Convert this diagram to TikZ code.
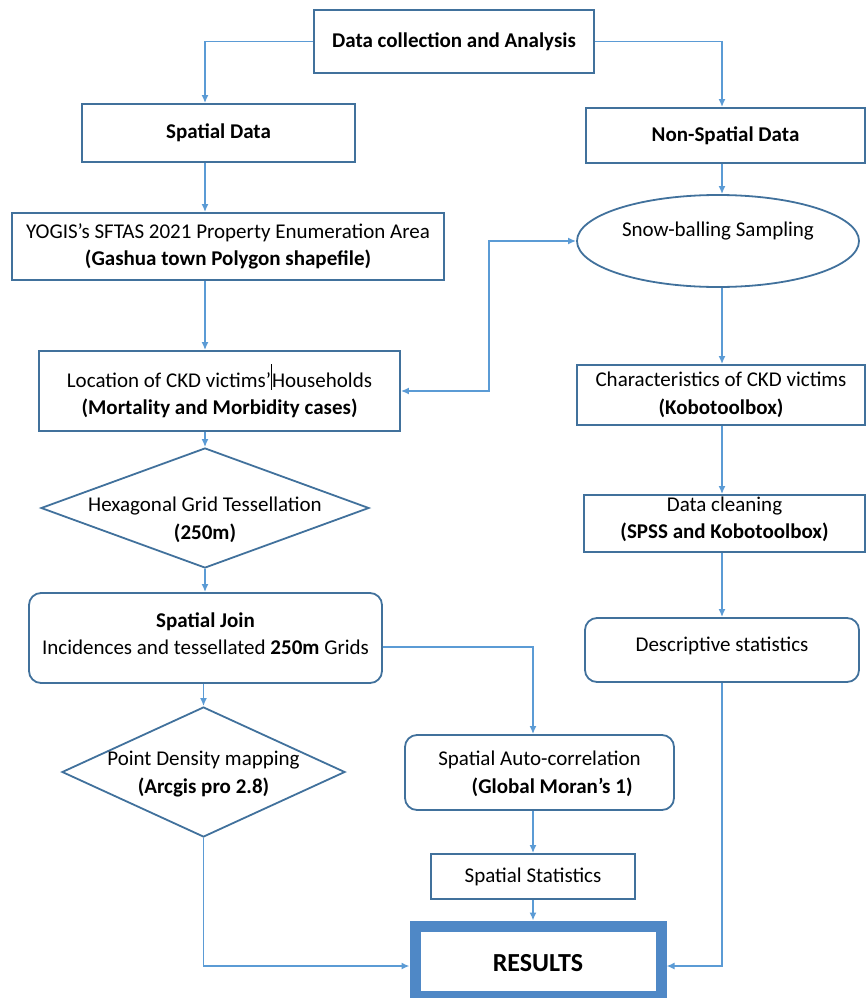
\documentclass[tikz,border=0pt]{standalone}
\usepackage{fontspec}
\setmainfont{Carlito}
\usetikzlibrary{shapes.geometric,arrows.meta,calc}
\definecolor{boxc}{RGB}{65,113,156}
\definecolor{arrc}{RGB}{91,155,213}
\definecolor{resc}{RGB}{79,136,198}
\begin{document}
\begin{tikzpicture}[x=1pt,y=-1pt,
  every node/.style={font=\fontsize{21}{27.5}\selectfont, align=center, text=black},
  box/.style={draw=boxc, line width=1.8pt, rectangle, inner sep=0pt},
  rbox/.style={box, rounded corners=12pt},
  diam/.style={draw=boxc, line width=1.8pt, diamond, inner sep=0pt},
  ell/.style={draw=boxc, line width=1.8pt, ellipse, inner sep=0pt},
  conn/.style={draw=arrc, line width=1.6pt, -{Latex[length=8pt,width=7pt]}},
  conn2/.style={draw=arrc, line width=1.6pt, {Latex[length=8pt,width=7pt]}-{Latex[length=8pt,width=7pt]}}
]
\useasboundingbox (0,0) rectangle (867,998);

\node[box, minimum width=280pt, minimum height=63pt] (top) at (454,41.5) {\textbf{Data collection and Analysis}};
\node[box, minimum width=273pt, minimum height=58pt] (spatial) at (218.5,133) {\textbf{Spatial Data}};
\node[box, minimum width=279pt, minimum height=55pt] (nonsp) at (725.5,135.5) {\textbf{Non-Spatial Data}};
\node[box, minimum width=432pt, minimum height=67pt] (yogis) at (228,246.5) {YOGIS’s SFTAS 2021 Property Enumeration Area\\\textbf{(Gashua town Polygon shapefile)}};
\node[ell, minimum width=282pt, minimum height=92pt] (snow) at (718,241) {};
\node at (718,231) {Snow-balling Sampling};
\node[box, minimum width=361pt, minimum height=80pt] (loc) at (219.5,391) {Location of CKD victims’\rule[-0.25ex]{1pt}{2.6ex}Households\\\textbf{(Mortality and Morbidity cases)}};
\node[box, minimum width=288pt, minimum height=60pt] (char) at (721,395) {Characteristics of CKD victims\\\textbf{(Kobotoolbox)}};
\node[diam, minimum width=328pt, minimum height=120pt] (hex) at (205,508) {};
\node at (205,520) {Hexagonal Grid Tessellation\\\textbf{(250m)}};
\node[box, minimum width=281pt, minimum height=57pt] (clean) at (724.5,523.5) {};
\node at (724.5,519.5) {Data cleaning\\\textbf{(SPSS and Kobotoolbox)}};
\node[rbox, minimum width=353pt, minimum height=90pt] (join) at (205.5,638) {};
\node at (205.5,633.5) {\textbf{Spatial Join}\\Incidences and tessellated \textbf{250m} Grids};
\node[rbox, minimum width=274pt, minimum height=64pt] (desc) at (722,650) {};
\node at (722,646) {Descriptive statistics};
\node[diam, minimum width=283pt, minimum height=130pt] (pd) at (203.5,772) {};
\node at (203.5,774) {Point Density mapping\\\textbf{(Arcgis pro 2.8)}};
\node[rbox, minimum width=269pt, minimum height=75pt] (auto) at (539.5,772.5) {};
\node at (539.5,774) {Spatial Auto-correlation\\\textbf{\hspace*{1.2em}(Global Moran’s 1)}};
\node[box, minimum width=204pt, minimum height=45pt] (stats) at (533,876.5) {Spatial Statistics};
\node[draw=resc, line width=11pt, fill=white, rectangle, inner sep=0pt, minimum width=246pt, minimum height=70pt] (res) at (538,961) {};
\node at (538,963) {\fontsize{26}{30}\selectfont\textbf{RESULTS}};

\coordinate (bend) at (489,391);

\draw[conn] (top.west) -| (spatial.north -| hex.center);
\draw[conn] (top.east) -| (nonsp.north -| desc.center);
\draw[conn] (spatial.south -| hex.center) -- (yogis.north -| hex.center);
\draw[conn] (nonsp.south -| desc.center) -- (snow.north -| desc.center);
\draw[conn] (yogis.south -| hex.center) -- (loc.north -| hex.center);
\draw[conn2] (snow.west) -| (bend) -- (loc.east);
\draw[conn] (snow.south -| desc.center) -- (char.north -| desc.center);
\draw[conn] (loc.south -| hex.center) -- (hex.north);
\draw[conn] (char.south -| desc.center) -- (clean.north -| desc.center);
\draw[conn] (hex.south) -- (join.north -| hex.center);
\draw[conn] (clean.south -| desc.center) -- (desc.north);
\draw[conn] (join.south -| pd.center) -- (pd.north);
\draw[conn] ([yshift=-9pt]join.east) -| (auto.north -| stats.center);
\draw[conn] (auto.south -| stats.center) -- (stats.north);
\draw[conn] (stats.south) -- (res.north -| stats.center);
\draw[conn] (pd.south) |- ([yshift=-5pt]res.west);
\draw[conn] (desc.south) |- ([yshift=-5pt]res.east);
\end{tikzpicture}
\end{document}
